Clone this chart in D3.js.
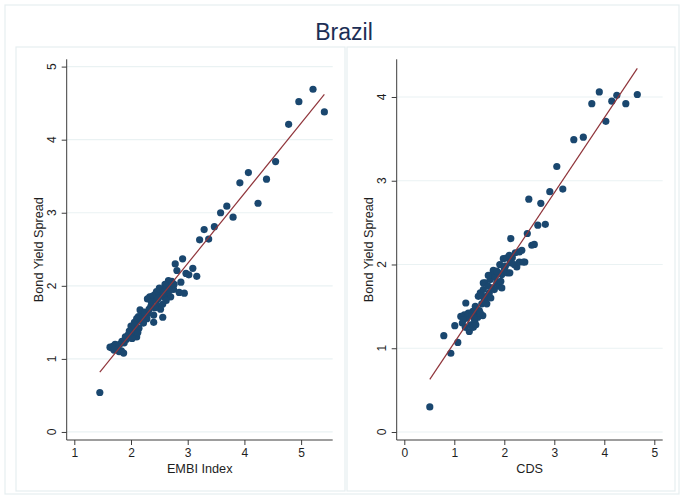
<!DOCTYPE html>
<html>
<head>
<meta charset="utf-8">
<script src="https://cdn.jsdelivr.net/npm/d3@7"></script>
<style>
  html, body { margin: 0; padding: 0; background: #ffffff; }
  svg { display: block; font-family: "Liberation Sans", Arial, sans-serif; }
</style>
</head>
<body>
<svg id="chart" width="682" height="498"></svg>
<script>
// Brazil: bond yield spread against EMBI index and against CDS, with linear fits.
const chartTitle = "Brazil";
const yTitle = "Bond Yield Spread";
const xTitles = ["EMBI Index", "CDS"];

const embiTicksX = [1, 2, 3, 4, 5];
const embiTicksY = [0, 1, 2, 3, 4, 5];
const cdsTicksX = [0, 1, 2, 3, 4, 5];
const cdsTicksY = [0, 1, 2, 3, 4];

// [EMBI index, bond yield spread]
const embiPoints = [
  [1.45,0.54],[5.21,4.69],[4.96,4.52],[5.41,4.38],[4.78,4.21],[4.55,3.70],[4.07,3.55],
  [4.39,3.46],[3.92,3.41],[4.24,3.13],[3.69,3.09],[3.58,3.00],[3.80,2.94],[3.47,2.81],
  [3.29,2.77],[3.21,2.63],[3.37,2.64],[2.91,2.37],[2.78,2.30],[2.81,2.21],[2.97,2.17],
  [3.09,2.24],[3.02,2.15],[3.16,2.13],[2.88,2.05],[2.85,1.91],[2.94,1.90],
  [2.72,2.06],[2.69,2.01],[2.75,1.95],[2.63,1.97],[2.66,2.07],[2.60,2.02],[2.55,1.95],
  [2.50,1.97],[2.52,1.90],[2.45,1.92],[2.42,1.88],[2.38,1.86],[2.33,1.85],[2.29,1.82],
  [2.36,1.78],[2.45,1.80],[2.58,1.85],[2.62,1.88],[2.70,1.85],[2.66,1.92],[2.48,1.72],
  [2.52,1.68],[2.56,1.75],[2.42,1.70],[2.35,1.72],[2.56,1.57],[2.40,1.50],[2.30,1.62],
  [2.25,1.58],[2.28,1.55],[2.20,1.60],[2.16,1.67],[2.13,1.58],[2.18,1.52],[2.22,1.49],
  [2.10,1.55],[2.06,1.50],[2.08,1.46],[2.14,1.42],[2.03,1.40],[2.00,1.45],[2.05,1.35],
  [1.97,1.38],[1.95,1.33],[2.10,1.30],[2.02,1.28],[1.92,1.27],[1.88,1.22],[1.84,1.24],
  [1.80,1.20],[1.76,1.18],[1.72,1.20],[1.68,1.17],[1.63,1.16],[1.66,1.15],[1.75,1.13],
  [1.79,1.10],[1.83,1.11],[1.87,1.08],[1.70,1.12],[1.90,1.30],[2.12,1.36],[2.24,1.64],
  [2.32,1.68],[2.48,1.83],[2.58,1.92],[2.40,1.60],[2.62,1.80],[2.68,1.94],[2.76,2.02]
];

// [CDS, bond yield spread]
const cdsPoints = [
  [0.51,0.30],[0.79,1.15],[0.93,0.94],[1.07,1.07],[1.01,1.27],[1.23,1.54],[1.58,1.78],
  [1.78,1.93],[1.91,2.00],[2.13,2.31],[2.35,2.17],[2.41,2.03],[2.25,1.97],[2.46,2.37],
  [2.49,2.78],[2.67,2.47],[2.82,2.48],[2.55,2.23],[2.60,2.24],[2.73,2.73],[2.91,2.87],
  [3.05,3.17],[3.17,2.90],[3.39,3.49],[3.58,3.52],[3.75,3.92],[3.90,4.06],[4.03,3.71],
  [4.15,3.95],[4.25,4.02],[4.43,3.92],[4.66,4.03],
  [1.13,1.38],[1.20,1.40],[1.25,1.36],[1.16,1.30],[1.22,1.25],[1.30,1.20],[1.33,1.28],
  [1.38,1.25],[1.41,1.32],[1.45,1.40],[1.37,1.44],[1.28,1.42],[1.42,1.50],[1.50,1.45],
  [1.55,1.53],[1.48,1.62],[1.52,1.66],[1.60,1.58],[1.65,1.62],[1.58,1.70],[1.62,1.78],
  [1.68,1.74],[1.72,1.82],[1.75,1.88],[1.82,1.85],[1.70,1.66],[1.76,1.72],[1.85,1.78],
  [1.90,1.74],[1.93,1.80],[1.88,1.90],[1.95,1.88],[2.00,1.95],[1.98,2.07],[2.05,2.08],
  [2.10,2.11],[2.16,2.08],[2.12,2.02],[2.20,2.00],[2.06,1.90],[2.11,1.90],[2.30,2.03],
  [2.38,2.03],[2.30,2.15],[1.57,1.39],[1.47,1.37],[1.65,1.53],[1.80,1.70],[1.55,1.63],
  [1.43,1.28],[1.35,1.39],[1.68,1.87],[1.62,1.55],[1.85,1.92],[2.02,1.98],[1.40,1.35],
  [1.52,1.42],[1.73,1.60],[1.95,1.72],[2.22,2.14],[1.18,1.34]
];

const colors = {
  marker: "#1a476f",
  fit: "#90353b",
  grid: "#eaf2f3",
  axis: "#3c3c3c",
  frame: "#e6eef0",
  text: "#1e1e1e",
  title: "#1c2e55"
};

const svg = d3.select("#chart");

// Outer graph frame and the two panel frames
svg.append("rect").attr("x", 5).attr("y", 5).attr("width", 674).attr("height", 489)
  .attr("fill", "#ffffff").attr("stroke", colors.frame).attr("stroke-width", 1.2);

svg.append("text").attr("x", 344).attr("y", 40).attr("text-anchor", "middle")
  .attr("font-size", 23).attr("fill", colors.title).text(chartTitle);

const panels = [
  {
    box: [16, 47, 329, 444],
    xDomain: [0.866, 5.557], yDomain: [-0.11, 5.1],
    xRange: [66.7, 332.7], yRange: [440, 59.3],
    xTicks: embiTicksX, yTicks: embiTicksY,
    points: embiPoints, xTitle: xTitles[0],
    yTickX: 52, yTitleX: 38
  },
  {
    box: [347, 47, 328, 444],
    xDomain: [-0.152, 5.168], yDomain: [-0.0955, 4.45],
    xRange: [396.7, 662.7], yRange: [440, 59.3],
    xTicks: cdsTicksX, yTicks: cdsTicksY,
    points: cdsPoints, xTitle: xTitles[1],
    yTickX: 382, yTitleX: 368
  }
];

// Ordinary least squares fit
function olsFit(pts) {
  const mx = d3.mean(pts, d => d[0]);
  const my = d3.mean(pts, d => d[1]);
  const sxy = d3.sum(pts, d => (d[0] - mx) * (d[1] - my));
  const sxx = d3.sum(pts, d => (d[0] - mx) * (d[0] - mx));
  const b = sxy / sxx;
  return { a: my - b * mx, b };
}

panels.forEach(p => {
  const g = svg.append("g");
  g.append("rect").attr("x", p.box[0]).attr("y", p.box[1])
    .attr("width", p.box[2]).attr("height", p.box[3])
    .attr("fill", "#ffffff").attr("stroke", colors.frame).attr("stroke-width", 1.2);

  const x = d3.scaleLinear().domain(p.xDomain).range(p.xRange);
  const y = d3.scaleLinear().domain(p.yDomain).range(p.yRange);

  // horizontal grid lines
  g.selectAll(".grid").data(p.yTicks).join("line")
    .attr("x1", p.xRange[0]).attr("x2", p.xRange[1])
    .attr("y1", d => y(d)).attr("y2", d => y(d))
    .attr("stroke", colors.grid).attr("stroke-width", 1.2);

  // axes
  const xAxis = d3.axisBottom(x).tickValues(p.xTicks).tickSize(5).tickPadding(3)
    .tickFormat(d3.format("d"));
  const gx = g.append("g").attr("transform", `translate(0,${p.yRange[0]})`).call(xAxis);
  gx.select(".domain").attr("stroke", colors.axis).attr("d", `M${p.xRange[0]},0H${p.xRange[1]}`);
  gx.selectAll(".tick line").attr("stroke", colors.axis);
  gx.selectAll(".tick text").attr("font-size", 12).attr("fill", colors.text)
    .attr("font-family", "Liberation Sans, Arial, sans-serif");

  const yAxis = d3.axisLeft(y).tickValues(p.yTicks).tickSize(5).tickFormat("");
  const gy = g.append("g").attr("transform", `translate(${p.xRange[0]},0)`).call(yAxis);
  gy.select(".domain").attr("stroke", colors.axis).attr("d", `M0,${p.yRange[1]}V${p.yRange[0]}`);
  gy.selectAll(".tick line").attr("stroke", colors.axis);

  // rotated y tick labels
  g.selectAll(".ylab").data(p.yTicks).join("text")
    .attr("transform", d => `translate(${p.yTickX},${y(d)}) rotate(-90)`)
    .attr("text-anchor", "middle").attr("dy", "0.36em")
    .attr("font-size", 12).attr("fill", colors.text).text(d => d);

  // axis titles
  g.append("text")
    .attr("transform", `translate(${p.yTitleX},${(p.yRange[0] + p.yRange[1]) / 2}) rotate(-90)`)
    .attr("text-anchor", "middle").attr("dy", "0.36em")
    .attr("font-size", 12.7).attr("fill", colors.text).text(yTitle);
  g.append("text")
    .attr("x", (p.xRange[0] + p.xRange[1]) / 2).attr("y", 473)
    .attr("text-anchor", "middle")
    .attr("font-size", 12.7).attr("fill", colors.text).text(p.xTitle);

  // scatter markers
  g.selectAll(".pt").data(p.points).join("circle")
    .attr("cx", d => x(d[0])).attr("cy", d => y(d[1]))
    .attr("r", 3.6).attr("fill", colors.marker);

  // fitted line over the observed x range
  const fit = olsFit(p.points);
  const [x0, x1] = d3.extent(p.points, d => d[0]);
  g.append("line")
    .attr("x1", x(x0)).attr("y1", y(fit.a + fit.b * x0))
    .attr("x2", x(x1)).attr("y2", y(fit.a + fit.b * x1))
    .attr("stroke", colors.fit).attr("stroke-width", 1.2);
});
</script>
</body>
</html>
